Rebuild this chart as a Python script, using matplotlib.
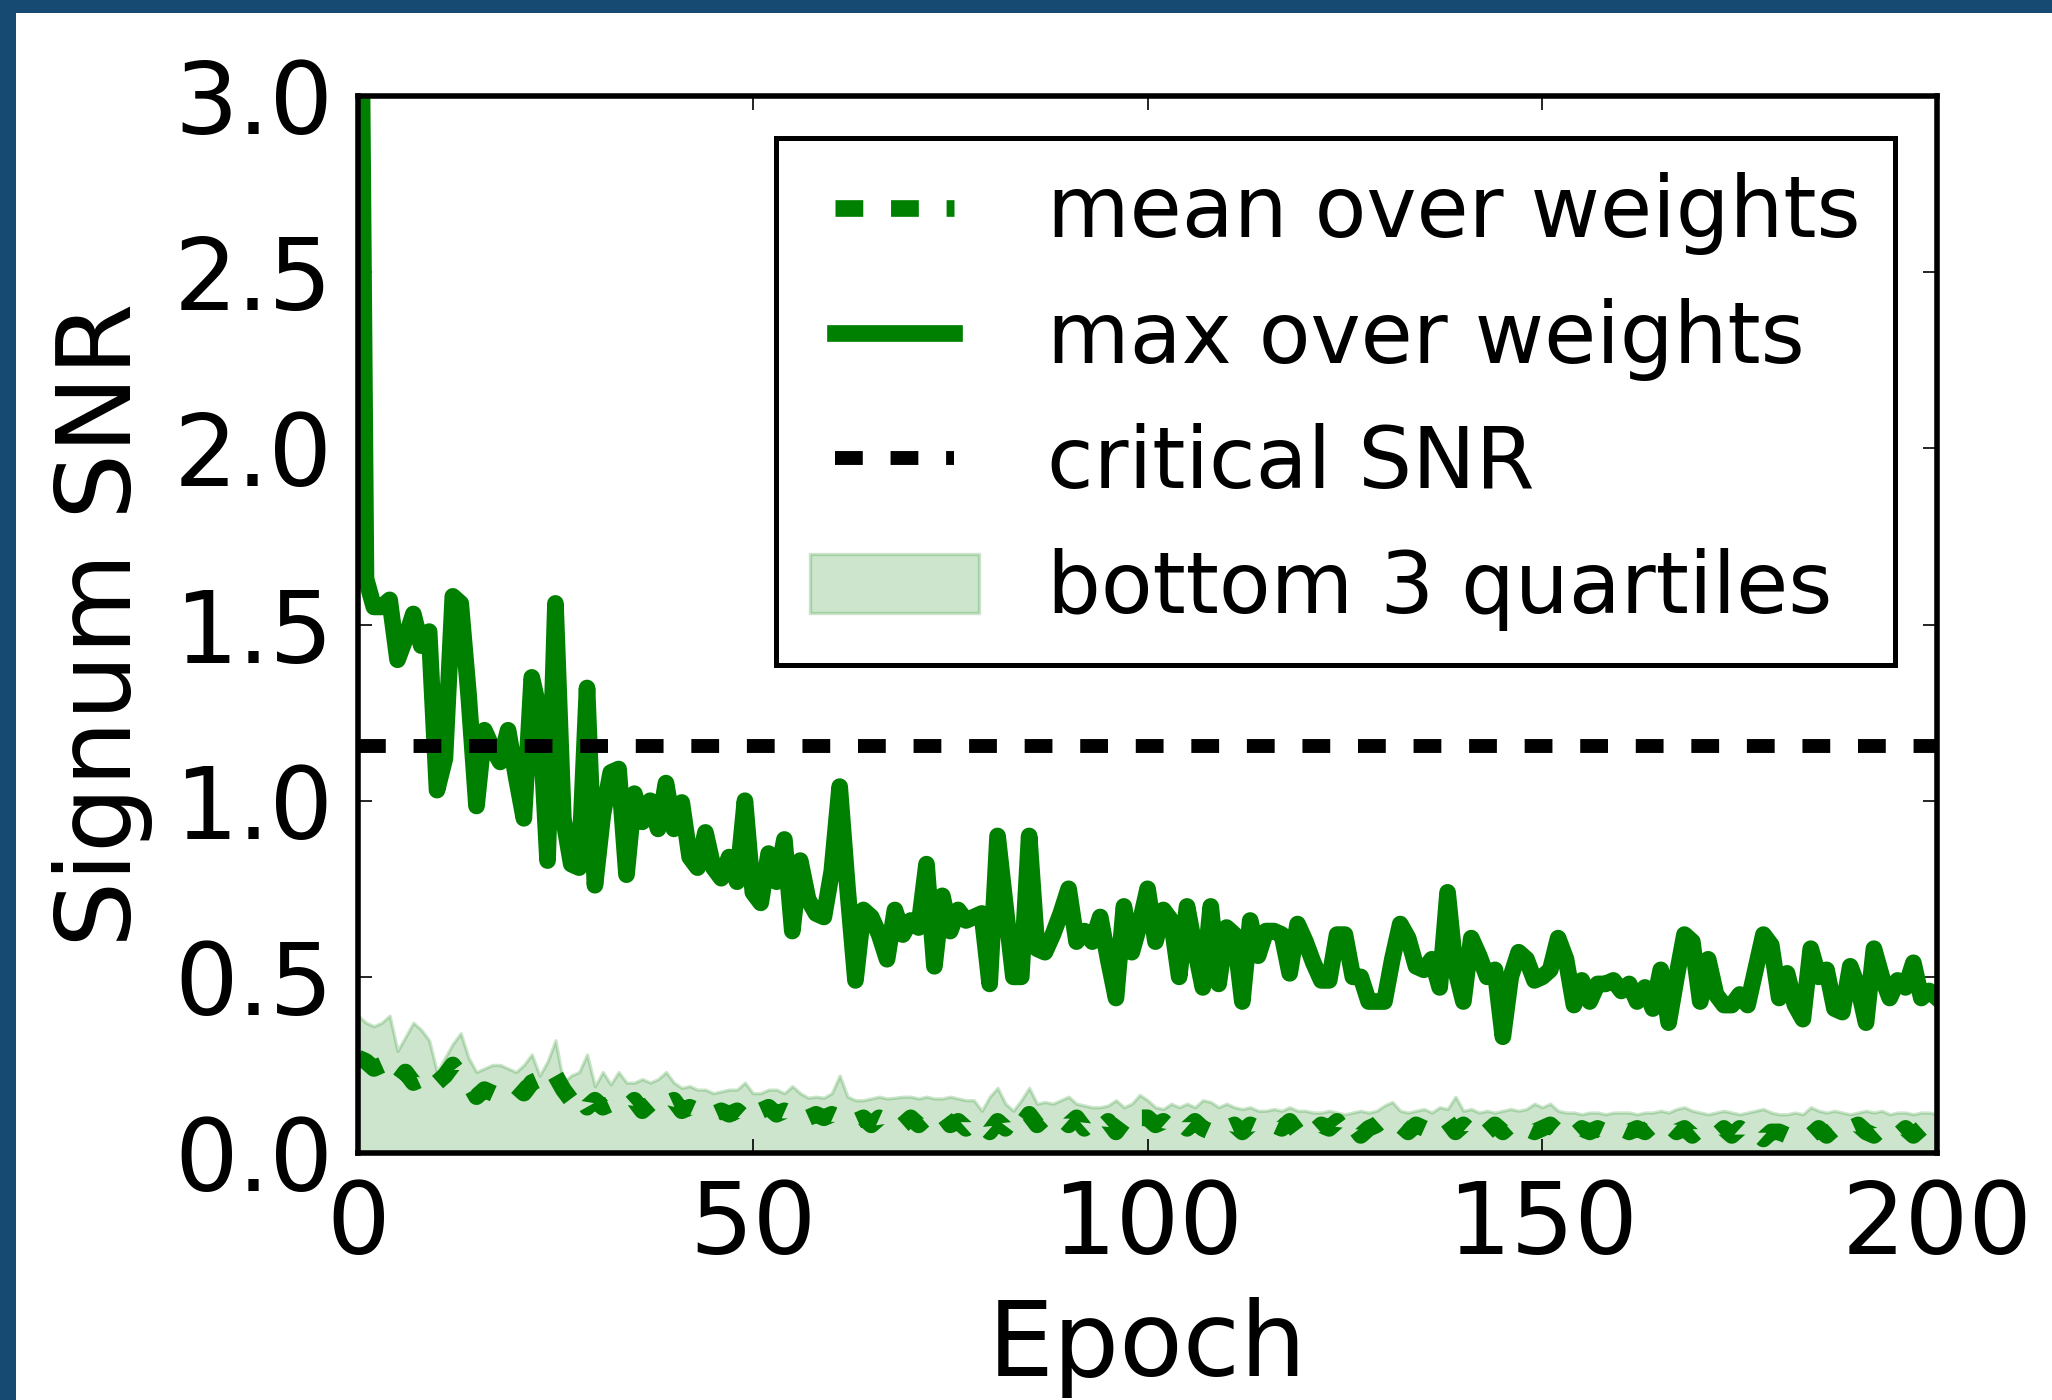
import numpy as np
import matplotlib
matplotlib.use('Agg')
import matplotlib.pyplot as plt
from matplotlib.patches import Rectangle

###########################################################

# values, one per epoch (0..200)
epochs = np.arange(0, 201)

snr_max = [
    4.40, 1.63, 1.55, 1.55, 1.57, 1.40, 1.46, 1.53, 1.44, 1.48,
    1.03, 1.12, 1.58, 1.56, 1.30, 0.985, 1.20, 1.15, 1.11, 1.20,
    1.07, 0.95, 1.35, 1.25, 0.83, 1.56, 0.95, 0.82, 0.81, 1.32,
    0.76, 0.96, 1.08, 1.09, 0.79, 1.02, 0.94, 1.00, 0.92, 1.05,
    0.92, 0.995, 0.84, 0.81, 0.91, 0.81, 0.78, 0.84, 0.77, 1.00,
    0.74, 0.71, 0.85, 0.77, 0.89, 0.63, 0.83, 0.72, 0.68, 0.67,
    0.80, 1.04, 0.75, 0.49, 0.69, 0.67, 0.62, 0.55, 0.69, 0.62,
    0.66, 0.64, 0.82, 0.53, 0.73, 0.63, 0.69, 0.66, 0.67, 0.68,
    0.48, 0.90, 0.70, 0.50, 0.50, 0.90, 0.58, 0.57, 0.62, 0.68,
    0.75, 0.60, 0.63, 0.60, 0.67, 0.55, 0.44, 0.70, 0.57, 0.65,
    0.75, 0.60, 0.69, 0.66, 0.50, 0.70, 0.58, 0.47, 0.70, 0.48,
    0.64, 0.62, 0.43, 0.66, 0.56, 0.63, 0.63, 0.62, 0.51, 0.65,
    0.60, 0.54, 0.49, 0.49, 0.62, 0.62, 0.50, 0.50, 0.43, 0.43,
    0.43, 0.55, 0.65, 0.61, 0.53, 0.52, 0.55, 0.47, 0.74, 0.52,
    0.43, 0.61, 0.56, 0.50, 0.52, 0.33, 0.50, 0.57, 0.55, 0.49,
    0.50, 0.52, 0.61, 0.55, 0.42, 0.49, 0.43, 0.48, 0.48, 0.49,
    0.46, 0.48, 0.43, 0.47, 0.41, 0.52, 0.37, 0.50, 0.62, 0.60,
    0.43, 0.55, 0.45, 0.42, 0.42, 0.45, 0.42, 0.52, 0.62, 0.59,
    0.44, 0.51, 0.42, 0.38, 0.58, 0.50, 0.52, 0.41, 0.40, 0.53,
    0.47, 0.37, 0.58, 0.50, 0.44, 0.49, 0.47, 0.54, 0.44, 0.46,
    0.44,
]

snr_mean = [
    0.27, 0.26, 0.24, 0.25, 0.22, 0.20, 0.23, 0.20, 0.21, 0.18,
    0.20, 0.22, 0.25, 0.22, 0.20, 0.16, 0.18, 0.17, 0.16, 0.18,
    0.19, 0.17, 0.20, 0.21, 0.19, 0.22, 0.18, 0.15, 0.17, 0.13,
    0.15, 0.13, 0.14, 0.15, 0.13, 0.15, 0.12, 0.14, 0.12, 0.14,
    0.15, 0.12, 0.13, 0.12, 0.13, 0.11, 0.12, 0.11, 0.12, 0.10,
    0.13, 0.12, 0.13, 0.11, 0.12, 0.11, 0.12, 0.10, 0.11, 0.10,
    0.11, 0.10, 0.11, 0.09, 0.10, 0.08, 0.10, 0.09, 0.10, 0.08,
    0.10, 0.08, 0.10, 0.09, 0.11, 0.08, 0.09, 0.07, 0.09, 0.08,
    0.06, 0.09, 0.07, 0.10, 0.08, 0.11, 0.08, 0.10, 0.09, 0.10,
    0.08, 0.10, 0.07, 0.09, 0.07, 0.09, 0.06, 0.09, 0.07, 0.10,
    0.10, 0.08, 0.09, 0.07, 0.09, 0.07, 0.09, 0.07, 0.06, 0.08,
    0.07, 0.08, 0.06, 0.08, 0.07, 0.06, 0.08, 0.07, 0.09, 0.06,
    0.08, 0.06, 0.08, 0.07, 0.09, 0.06, 0.08, 0.05, 0.07, 0.08,
    0.10, 0.09, 0.08, 0.06, 0.08, 0.07, 0.06, 0.08, 0.09, 0.06,
    0.08, 0.06, 0.08, 0.06, 0.08, 0.06, 0.08, 0.09, 0.07, 0.06,
    0.07, 0.08, 0.06, 0.07, 0.05, 0.07, 0.06, 0.07, 0.06, 0.05,
    0.07, 0.06, 0.07, 0.06, 0.08, 0.07, 0.08, 0.06, 0.07, 0.05,
    0.07, 0.06, 0.05, 0.07, 0.05, 0.07, 0.05, 0.06, 0.04, 0.06,
    0.06, 0.05, 0.05, 0.06, 0.05, 0.07, 0.05, 0.07, 0.05, 0.07,
    0.08, 0.06, 0.05, 0.07, 0.06, 0.05, 0.07, 0.05, 0.07, 0.05,
    0.05,
]

snr_q3 = [
    0.39, 0.37, 0.36, 0.37, 0.39, 0.29, 0.33, 0.37, 0.35, 0.32,
    0.23, 0.27, 0.31, 0.34, 0.27, 0.23, 0.24, 0.25, 0.25, 0.24,
    0.23, 0.25, 0.28, 0.22, 0.26, 0.32, 0.20, 0.22, 0.23, 0.28,
    0.19, 0.23, 0.195, 0.23, 0.20, 0.20, 0.21, 0.20, 0.21, 0.23,
    0.20, 0.185, 0.19, 0.18, 0.18, 0.17, 0.175, 0.18, 0.18, 0.20,
    0.17, 0.17, 0.18, 0.18, 0.17, 0.19, 0.17, 0.157, 0.16, 0.157,
    0.17, 0.22, 0.16, 0.15, 0.15, 0.155, 0.16, 0.155, 0.157, 0.16,
    0.16, 0.155, 0.16, 0.155, 0.155, 0.16, 0.155, 0.15, 0.15, 0.12,
    0.16, 0.185, 0.14, 0.12, 0.15, 0.185, 0.14, 0.145, 0.14, 0.15,
    0.16, 0.14, 0.135, 0.13, 0.13, 0.135, 0.15, 0.13, 0.14, 0.165,
    0.15, 0.13, 0.125, 0.14, 0.13, 0.14, 0.13, 0.15, 0.145, 0.13,
    0.14, 0.13, 0.125, 0.13, 0.12, 0.12, 0.125, 0.12, 0.13, 0.12,
    0.12, 0.115, 0.115, 0.12, 0.115, 0.11, 0.115, 0.12, 0.115, 0.12,
    0.135, 0.145, 0.12, 0.115, 0.12, 0.125, 0.115, 0.13, 0.125, 0.16,
    0.12, 0.125, 0.115, 0.12, 0.115, 0.12, 0.125, 0.12, 0.125, 0.14,
    0.13, 0.14, 0.12, 0.115, 0.115, 0.11, 0.115, 0.115, 0.11, 0.115,
    0.115, 0.115, 0.11, 0.115, 0.115, 0.12, 0.115, 0.125, 0.13, 0.12,
    0.115, 0.11, 0.115, 0.12, 0.115, 0.11, 0.115, 0.12, 0.125, 0.115,
    0.11, 0.11, 0.115, 0.11, 0.13, 0.12, 0.115, 0.12, 0.115, 0.11,
    0.115, 0.12, 0.115, 0.12, 0.11, 0.115, 0.115, 0.11, 0.115, 0.115,
    0.11,
]

critical_snr = 1.155

xticks = [0, 50, 100, 150, 200]
yticks = [0.0, 0.5, 1.0, 1.5, 2.0, 2.5, 3.0]

###########################################################

plt.rcParams['font.family'] = 'DejaVu Sans'
plt.rcParams['lines.scale_dashes'] = False

fig = plt.figure(figsize=(10.26, 7.0), dpi=200, facecolor='white')
ax = fig.add_axes([0.1745, 0.1764, 0.7695, 0.755])

# dark blue frame on top and left of the slide
fig.patches.append(Rectangle((0, 1 - 0.0093), 1, 0.0093, transform=fig.transFigure,
                             facecolor='#174a72', edgecolor='none'))
fig.patches.append(Rectangle((0, 0), 0.0078, 1, transform=fig.transFigure,
                             facecolor='#174a72', edgecolor='none'))

fill = ax.fill_between(epochs, 0, snr_q3, color='green', alpha=0.2, linewidth=1.2)
l_mean, = ax.plot(epochs, snr_mean, color='green', lw=6, dashes=(10, 10))
l_max, = ax.plot(epochs, snr_max, color='green', lw=6, solid_capstyle='projecting')
l_crit = ax.axhline(critical_snr, color='black', lw=5, dashes=(10, 10))

ax.set_xlim(0, 200)
ax.set_ylim(0, 3.0)
ax.set_xticks(xticks)
ax.set_yticks(yticks)
ax.set_yticklabels(['%.1f' % v for v in yticks])

ax.tick_params(direction='in', top=True, right=True, length=5, width=0.6,
               labelsize=36, pad=9)
for s in ax.spines.values():
    s.set_linewidth(2)

ax.set_xlabel('Epoch', fontsize=37.5)
ax.set_ylabel('Signum SNR', fontsize=37.5)
ax.xaxis.set_label_coords(0.5, -0.136)
ax.yaxis.set_label_coords(-0.130, 0.5)

leg = ax.legend([l_mean, l_max, l_crit, fill],
                ['mean over weights', 'max over weights', 'critical SNR', 'bottom 3 quartiles'],
                loc='upper right', fontsize=30.5, numpoints=2, fancybox=False,
                framealpha=1, edgecolor='black', borderpad=0.4, labelspacing=0.5,
                handlelength=2.0, handletextpad=0.8, borderaxespad=0.5)
leg.get_frame().set_linewidth(1.8)

fig.savefig('out.png', dpi=200, facecolor='white')
